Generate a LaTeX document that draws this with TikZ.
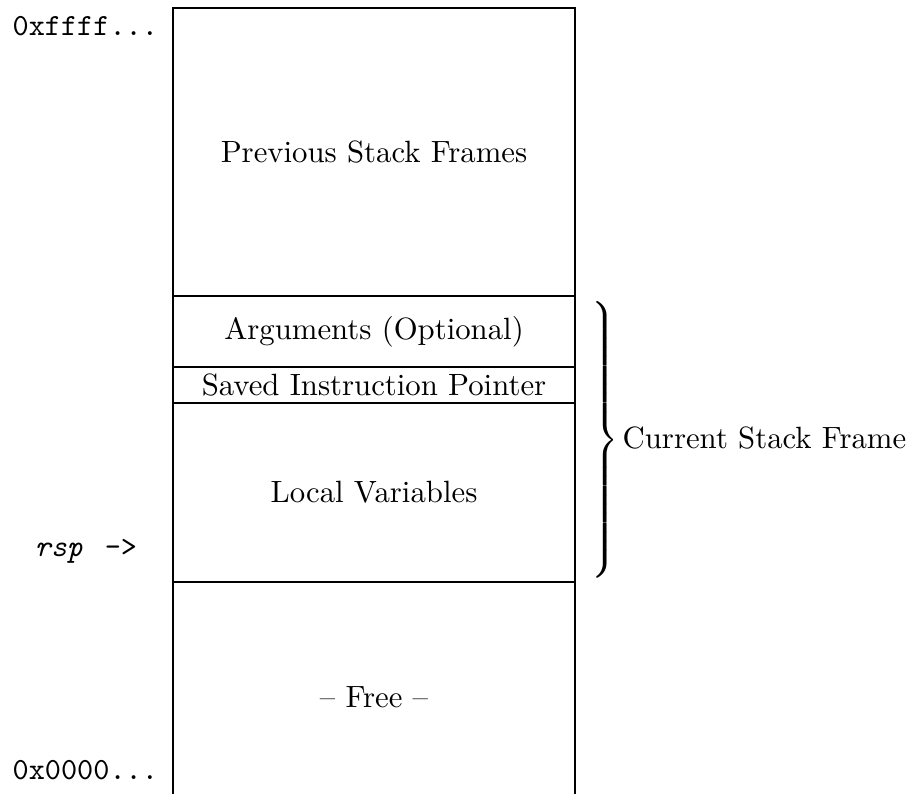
\documentclass[tikz,border=0pt]{standalone}
\begin{document}
\begin{tikzpicture}[x=0.325pt,y=-0.325pt,
  sect/.style={draw, line width=0.4pt, inner sep=0pt, outer sep=0pt,
    minimum width=130.65pt, font=\normalsize},
  addr/.style={inner sep=0pt, font=\ttfamily, anchor=base west}]
\useasboundingbox (0,0) rectangle (915,794);

% stack sections, top (high addresses) to bottom
\node[sect, minimum height=93.6pt]   (prev)  at (374,152)   {Previous Stack Frames};
\node[sect, minimum height=23.075pt] (args)  at (374,331.5) {Arguments (Optional)};
\node[sect, minimum height=11.7pt]   (sip)   at (374,385)   {Saved Instruction Pointer};
\node[sect, minimum height=58.175pt] (local) at (374,492.5) {Local Variables};
\node[sect, minimum height=74.75pt]  (free)  at (374,697)   {-- Free --};

% address labels and stack pointer
\node[addr] (hi)  at (12,36)  {0xffff...};
\node[addr] (lo)  at (12,779) {0x0000...};
\node[addr] (rsp) at (34,557) {\textit{rsp}\hspace{1.8pt} ->};

% brace for the current frame
\node[anchor=west, inner sep=0pt] (brace) at (591,440)
  {$\delimiterfactor=1000 \delimitershortfall=0pt \nulldelimiterspace=0pt
    \left.\vcenter{\hbox{\rule{0pt}{85.5pt}}}\right\rbrace$};
\node[anchor=west, inner sep=0pt] (cur) at (622,438) {Current Stack Frame};
\end{tikzpicture}
\end{document}
